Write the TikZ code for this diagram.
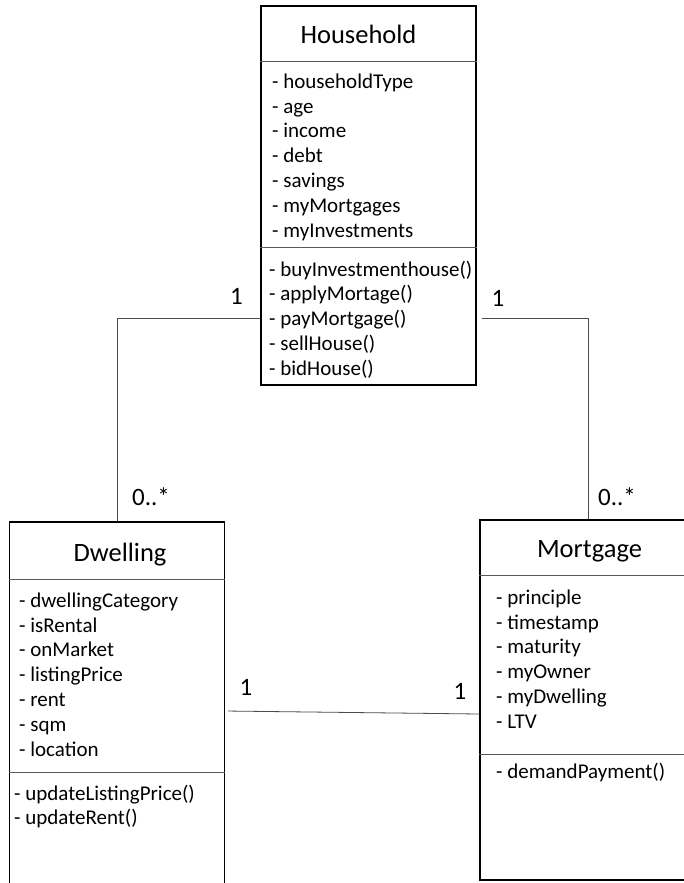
\documentclass[tikz,border=0pt]{standalone}
\usepackage{fontspec}
\setmainfont{Carlito}
\usetikzlibrary{positioning, calc}
\tikzstyle{umlclass} = [rectangle, draw=black, line width=1.2pt, fill=white, inner sep=0pt]
\tikzstyle{classname} = [font=\fontsize{26.5}{30}\selectfont, inner sep=0pt]
\tikzstyle{members} = [font=\fontsize{21}{24.8}\selectfont, align=left, anchor=north west, inner sep=0pt]
\tikzstyle{sep} = [draw=black!65, line width=1pt]
\tikzstyle{assoc} = [draw=black!70, line width=0.8pt]
\tikzstyle{mult} = [font=\fontsize{25}{30}\selectfont, inner sep=0pt]

\begin{document}
\begin{tikzpicture}[x=1pt, y=-1pt]
    \useasboundingbox (0,0) rectangle (684,883);
    \clip (0,0) rectangle (684,883);
    \fill[white] (0,0) rectangle (684,883);

    % classes
    \node (hh) [umlclass, minimum width=215pt, minimum height=379pt] at (368.5,195.5) {};
    \node (dw) [umlclass, minimum width=214.5pt, minimum height=380pt] at (117,712) {};
    \node (mg) [umlclass, minimum width=216pt, minimum height=360pt] at (588,700) {};

    % compartments
    \draw [sep] (hh.west |- 0,62) -- (hh.east |- 0,62);
    \draw [sep] (hh.west |- 0,247.5) -- (hh.east |- 0,247.5);
    \draw [sep] (dw.west |- 0,579) -- (dw.east |- 0,579);
    \draw [sep] (dw.west |- 0,772) -- (dw.east |- 0,772);
    \draw [sep] (mg.west |- 0,575) -- (mg.east |- 0,575);
    \draw [sep] (mg.west |- 0,754) -- (mg.east |- 0,754);

    \node (hhname) [classname] at (358.5,34.5) {Household};
    \node (hhattr) [members] at (272,73.5) {- householdType\\- age\\- income\\- debt\\- savings\\- myMortgages\\- myInvestments};
    \node (hhops) [members] at (269,260.5) {- buyInvestmenthouse()\\- applyMortage()\\- payMortgage()\\- sellHouse()\\- bidHouse()};

    \node (dwname) [classname] at (120,554.5) {Dwelling};
    \node (dwattr) [members] at (19,592.5) {- dwellingCategory\\- isRental\\- onMarket\\- listingPrice\\- rent\\- sqm\\- location};
    \node (dwops) [members] at (14,784.5) {- updateListingPrice()\\- updateRent()};

    \node (mgname) [classname] at (589.5,551.5) {Mortgage};
    \node (mgattr) [members] at (496,589.5) {- principle\\- timestamp\\- maturity\\- myOwner\\- myDwelling\\- LTV};
    \node (mgops) [members] at (496,763) {- demandPayment()};

    % associations
    \draw [assoc] (hh.west |- 0,318) -| (dw.north);
    \draw [assoc, shorten <=5pt] (hh.east |- 0,318) -| (mg.north);
    \draw [assoc, shorten <=3pt] (dw.east |- 0,711) -- (mg.west |- 0,714);

    \node (m1) [mult] at (236.5,296) {1};
    \node (m2) [mult] at (151,497) {0..*};
    \node (m3) [mult] at (498,298) {1};
    \node (m4) [mult] at (617,497) {0..*};
    \node (m5) [mult] at (246,687) {1};
    \node (m6) [mult] at (460,691) {1};
\end{tikzpicture}
\end{document}
